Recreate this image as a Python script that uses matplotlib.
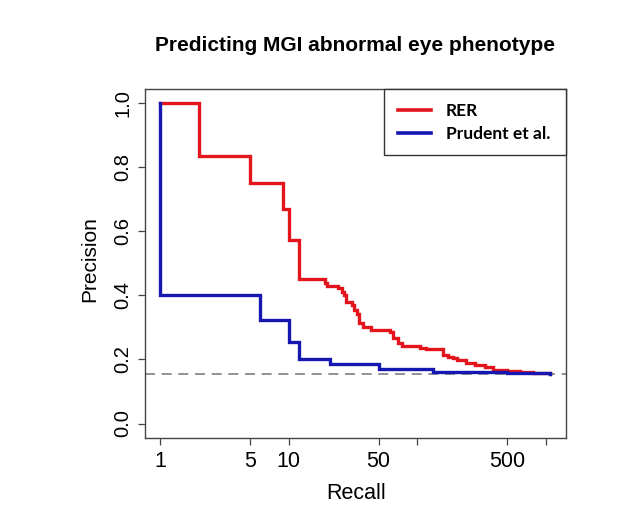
import matplotlib
matplotlib.use("Agg")
import matplotlib.pyplot as plt

# ---- data ----
rer_recall = [1, 2, 5, 9, 10, 12, 19, 20, 24, 26, 27, 28, 31, 32, 34, 35, 38, 44,
              61, 65, 71, 76, 105, 118, 160, 175, 190, 205, 240, 280, 335, 390,
              500, 630, 800, 1090]
rer_precision = [1.0, 0.833, 0.75, 0.667, 0.571, 0.45, 0.437, 0.428, 0.421, 0.41,
                 0.40, 0.379, 0.37, 0.354, 0.34, 0.312, 0.302, 0.291, 0.286, 0.265,
                 0.25, 0.241, 0.236, 0.232, 0.213, 0.208, 0.203, 0.198, 0.19, 0.182,
                 0.175, 0.167, 0.164, 0.159, 0.156, 0.155]

prudent_recall = [1, 1, 6, 10, 12, 21, 50, 133, 500, 1090]
prudent_precision = [1.0, 0.4, 0.322, 0.253, 0.201, 0.185, 0.169, 0.160, 0.157, 0.155]

baseline = 0.154

x_ticks = [1, 5, 10, 50, 100, 500, 1000]
x_ticklabels = ["1", "5", "10", "50", "", "500", ""]
y_ticks = [0.0, 0.2, 0.4, 0.6, 0.8, 1.0]
y_ticklabels = ["0.0", "0.2", "0.4", "0.6", "0.8", "1.0"]

title = "Predicting MGI abnormal eye phenotype"
series_labels = ["RER", "Prudent et al."]

# ---- figure ----
plt.rcParams["font.family"] = ["Liberation Sans", "DejaVu Sans"]
fig = plt.figure(figsize=(6.43, 5.21), dpi=100)
ax = fig.add_axes([0.225, 0.160, 0.655, 0.669])

red = "#e3141c"
blue = "#1616b0"

ax.axhline(baseline, color="#7f7f7f", lw=1.2, ls=(0, (6, 4)), zorder=1)
ax.plot(rer_recall, rer_precision, drawstyle="steps-post", color=red, lw=2.4,
        label=series_labels[0], zorder=2, solid_joinstyle="miter")
ax.plot(prudent_recall, prudent_precision, drawstyle="steps-post", color=blue, lw=2.4,
        label=series_labels[1], zorder=3, solid_joinstyle="miter")

ax.set_xscale("log")
ax.set_xlim(0.756, 1436)
ax.set_ylim(-0.044, 1.042)
ax.set_xticks(x_ticks)
ax.set_xticklabels(x_ticklabels)
ax.xaxis.set_minor_locator(matplotlib.ticker.NullLocator())
ax.set_yticks(y_ticks)
ax.set_yticklabels(y_ticklabels, rotation=90, va="center")

ax.tick_params(axis="both", direction="out", length=5, width=0.9, color="#444444")
ax.tick_params(axis="x", labelsize=15.5, pad=4.8)
ax.tick_params(axis="y", labelsize=14.5, pad=4.0)
for s in ax.spines.values():
    s.set_color("#444444")
    s.set_linewidth(1.0)

ax.set_xlabel("Recall", fontsize=15.5, va="top")
ax.xaxis.set_label_coords(0.501, -0.131)
ax.set_ylabel("Precision", fontsize=15, va="bottom")
ax.yaxis.set_label_coords(-0.107, 0.513)

ax.set_title(title, fontsize=15, fontweight="bold", y=1.109, pad=0)

leg = ax.legend(loc="upper left", bbox_to_anchor=(0.569, 1.0, 0.431, 0.0), mode="expand",
                borderaxespad=0, fancybox=False, framealpha=1, edgecolor="#333333",
                prop={"family": "Lato", "weight": "bold", "size": 12.5},
                handlelength=1.9, handletextpad=0.87, borderpad=0.78, labelspacing=0.4)
leg.get_frame().set_linewidth(1.0)
for h in leg.get_lines():
    h.set_linewidth(2.6)

fig.savefig("out.png", dpi=100, facecolor="white")
